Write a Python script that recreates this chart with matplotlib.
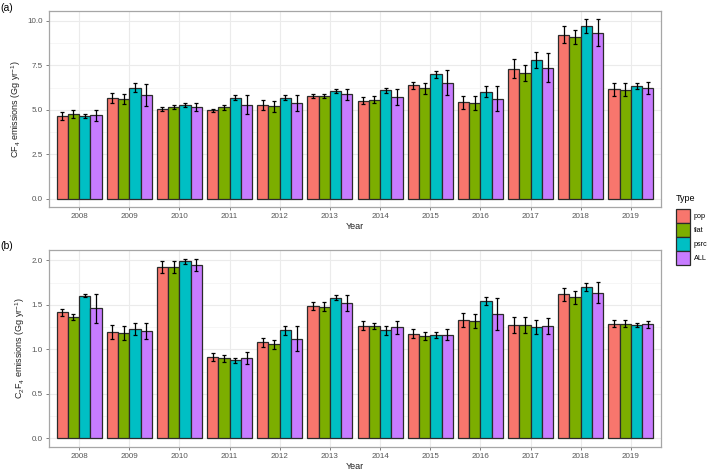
import numpy as np
import matplotlib
matplotlib.use("Agg")
import matplotlib.pyplot as plt
from matplotlib.patches import Patch

plt.rcParams["font.family"] = ["Liberation Sans", "DejaVu Sans"]
plt.rcParams["mathtext.fontset"] = "custom"
plt.rcParams["mathtext.rm"] = "Liberation Sans"
plt.rcParams["mathtext.it"] = "Liberation Sans:italic"

years = ["2008", "2009", "2010", "2011", "2012", "2013", "2014", "2015", "2016", "2017", "2018", "2019"]
types = ["pop", "flat", "psrc", "ALL"]
colors = ["#F8766D", "#7CAE00", "#00BFC4", "#C77CFF"]

# Panel (a) CF4
cf4_pop = [4.65, 5.70, 5.05, 4.98, 5.30, 5.78, 5.52, 6.39, 5.43, 7.32, 9.23, 6.16]
cf4_flat = [4.77, 5.63, 5.15, 5.15, 5.20, 5.78, 5.58, 6.22, 5.39, 7.06, 9.08, 6.14]
cf4_psrc = [4.67, 6.25, 5.27, 5.70, 5.70, 6.08, 6.10, 7.00, 6.03, 7.79, 9.72, 6.35]
cf4_all = [4.70, 5.85, 5.17, 5.30, 5.40, 5.88, 5.73, 6.54, 5.62, 7.38, 9.34, 6.22]
cf4_pop_err = [0.22, 0.28, 0.10, 0.08, 0.28, 0.10, 0.20, 0.20, 0.38, 0.55, 0.48, 0.35]
cf4_flat_err = [0.22, 0.27, 0.12, 0.15, 0.30, 0.10, 0.20, 0.30, 0.40, 0.45, 0.40, 0.35]
cf4_psrc_err = [0.12, 0.26, 0.12, 0.12, 0.15, 0.10, 0.12, 0.20, 0.30, 0.45, 0.40, 0.15]
cf4_all_err = [0.30, 0.62, 0.25, 0.52, 0.45, 0.30, 0.45, 0.70, 0.70, 0.80, 0.75, 0.35]

# Panel (b) C2F4
c2f4_pop = [1.416, 1.195, 1.925, 0.914, 1.079, 1.487, 1.266, 1.176, 1.333, 1.273, 1.618, 1.288]
c2f4_flat = [1.363, 1.187, 1.925, 0.900, 1.056, 1.480, 1.262, 1.150, 1.315, 1.277, 1.584, 1.288]
c2f4_psrc = [1.603, 1.228, 1.990, 0.876, 1.213, 1.580, 1.213, 1.160, 1.543, 1.247, 1.700, 1.270]
c2f4_all = [1.460, 1.206, 1.947, 0.900, 1.120, 1.517, 1.247, 1.165, 1.397, 1.266, 1.637, 1.280]
c2f4_pop_err = [0.04, 0.08, 0.07, 0.05, 0.05, 0.05, 0.05, 0.05, 0.08, 0.09, 0.07, 0.04]
c2f4_flat_err = [0.03, 0.08, 0.07, 0.04, 0.05, 0.05, 0.03, 0.04, 0.08, 0.09, 0.07, 0.04]
c2f4_psrc_err = [0.015, 0.07, 0.03, 0.03, 0.05, 0.03, 0.05, 0.03, 0.04, 0.08, 0.05, 0.02]
c2f4_all_err = [0.16, 0.09, 0.07, 0.07, 0.14, 0.09, 0.07, 0.06, 0.18, 0.09, 0.12, 0.04]

W, H = 709, 471
fig = plt.figure(figsize=(W / 100, H / 100), dpi=100)

def box(l, t, r, b):
    return [l / W, 1 - b / H, (r - l) / W, (b - t) / H]

ax_a = fig.add_axes(box(49, 11, 661, 207))
ax_b = fig.add_axes(box(49, 250, 661, 447))

def draw(ax, vals, errs, ylim, major, minor, ylabel):
    x = np.arange(1, len(years) + 1)
    bw = 0.225
    for i, (v, e, c) in enumerate(zip(vals, errs, colors)):
        xi = x + (i - 1.5) * bw
        ax.bar(xi, v, width=bw, color=c, edgecolor="#2b2b2b", linewidth=0.9, zorder=3)
        ax.errorbar(xi, v, yerr=e, fmt="none", ecolor="black", elinewidth=0.9,
                    capsize=1.3, capthick=0.9, zorder=4)
    ax.set_xlim(0.4, len(years) + 0.6)
    ax.set_ylim(*ylim)
    ax.set_xticks(x)
    ax.set_xticklabels(years)
    ax.set_yticks(major)
    ax.set_yticks(minor, minor=True)
    ax.grid(True, which="major", color="#ebebeb", linewidth=0.8, zorder=0)
    ax.grid(True, which="minor", axis="y", color="#f3f3f3", linewidth=0.5, zorder=0)
    ax.set_axisbelow(True)
    for s in ax.spines.values():
        s.set_color("#a6a6a6")
        s.set_linewidth(0.9)
    ax.tick_params(axis="both", which="major", labelsize=5.8, labelcolor="#555555",
                   color="#6a6a6a", length=2.5, width=0.6, pad=2)
    ax.tick_params(axis="y", which="minor", length=0)
    ax.set_xlabel("Year", fontsize=6.5, color="#222222", labelpad=1.5)
    ax.set_ylabel(ylabel, fontsize=6.5, color="#222222", labelpad=3)

draw(ax_a, [cf4_pop, cf4_flat, cf4_psrc, cf4_all],
     [cf4_pop_err, cf4_flat_err, cf4_psrc_err, cf4_all_err],
     (-0.45, 10.56), [0, 2.5, 5, 7.5, 10], [1.25, 3.75, 6.25, 8.75],
     r"CF$_4$ emissions (Gg yr$^{-1}$)")
ax_a.set_yticklabels(["0.0", "2.5", "5.0", "7.5", "10.0"])

draw(ax_b, [c2f4_pop, c2f4_flat, c2f4_psrc, c2f4_all],
     [c2f4_pop_err, c2f4_flat_err, c2f4_psrc_err, c2f4_all_err],
     (-0.098, 2.116), [0, 0.5, 1.0, 1.5, 2.0], [0.25, 0.75, 1.25, 1.75],
     r"C$_2$F$_4$ emissions (Gg yr$^{-1}$)")
ax_b.set_yticklabels(["0.0", "0.5", "1.0", "1.5", "2.0"])

fig.text(0.5 / W, 1 - 8 / H, "(a)", fontsize=7.5, va="center", ha="left")
fig.text(0.5 / W, 1 - 246 / H, "(b)", fontsize=7.5, va="center", ha="left")

handles = [Patch(facecolor=c, edgecolor="#2b2b2b", linewidth=0.9) for c in colors]
leg = fig.legend(handles, types, title="Type", loc="upper left",
                 bbox_to_anchor=(676 / W, 1 - 194 / H), frameon=False,
                 fontsize=5.2, title_fontsize=6.5, handlelength=1.94, handleheight=2.61,
                 handletextpad=0.55, labelspacing=0.0, borderaxespad=0, borderpad=0)
leg._legend_box.align = "left"
leg._legend_box.sep = 4

fig.savefig("out.png", dpi=100)
